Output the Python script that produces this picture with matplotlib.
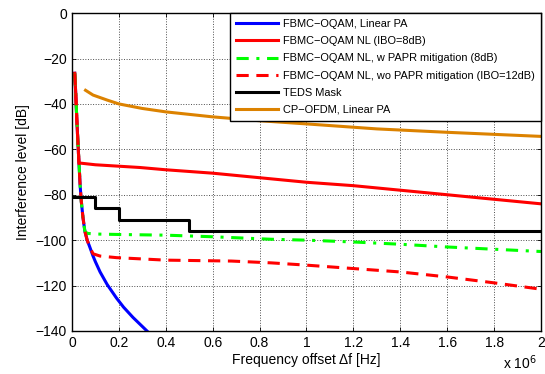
import matplotlib
matplotlib.use("Agg")
import matplotlib.pyplot as plt

plt.rcParams['font.family'] = ['Liberation Sans', 'DejaVu Sans']

# frequency offsets in units of 1e6 Hz, levels in dB
blue_f = [0.012, 0.016, 0.02, 0.025, 0.03, 0.035, 0.04, 0.047, 0.055, 0.065, 0.076,
          0.09, 0.1, 0.12, 0.15, 0.19, 0.22, 0.26, 0.3, 0.33]
blue_db = [-26.5, -35, -45, -56, -66, -76, -83, -90, -96, -100, -103,
           -107, -109.5, -114, -119.5, -125.5, -129.5, -134, -138, -141]

nl8_f = [0.012, 0.016, 0.02, 0.025, 0.03, 0.1, 0.29, 0.4, 0.6, 0.85, 1.0,
         1.2, 1.4, 1.6, 1.8, 2.0]
nl8_db = [-26.5, -35, -45, -56, -66, -66.8, -68, -69, -70.5, -73, -74.5,
          -76, -78, -80, -82, -84]

papr_f = [0.012, 0.016, 0.02, 0.025, 0.03, 0.035, 0.04, 0.047, 0.055, 0.065, 0.1,
          0.2, 0.4, 0.6, 0.85, 1.0, 1.2, 1.4, 1.6, 1.8, 2.0]
papr_db = [-26.5, -35, -45, -56, -66, -76, -83, -90, -96, -97, -97.3,
           -97.5, -97.8, -98.5, -99.6, -100, -100.8, -101.8, -103, -104, -105]

nl12_f = [0.012, 0.016, 0.02, 0.025, 0.03, 0.035, 0.04, 0.047, 0.055, 0.065, 0.076,
          0.09, 0.12, 0.19, 0.4, 0.68, 0.85, 1.0, 1.2, 1.4, 1.6, 1.8, 2.0]
nl12_db = [-26.5, -35, -45, -56, -66, -76, -83, -90, -96, -100, -103,
           -106, -107, -107.7, -108.8, -109.2, -110, -111, -112.5, -114, -116.2, -118.8, -121.6]

mask_f = [0, 0.1, 0.2, 0.5, 2.0]
mask_db = [-81, -86, -91, -96, -96]

ofdm_f = [0.058, 0.09, 0.15, 0.2, 0.3, 0.4, 0.6, 0.8, 1.0, 1.3, 1.6, 2.0]
ofdm_db = [-34, -36.1, -38.3, -40, -42, -43.5, -45.7, -47.4, -48.8, -51, -52.5, -54.3]

labels = ["FBMC\u2212OQAM, Linear PA",
          "FBMC\u2212OQAM NL (IBO=8dB)",
          "FBMC\u2212OQAM NL, w PAPR mitigation (8dB)",
          "FBMC\u2212OQAM NL, wo PAPR mitigation (IBO=12dB)",
          "TEDS Mask",
          "CP\u2212OFDM, Linear PA"]

fig = plt.figure(figsize=(5.45, 3.74), dpi=100)
ax = fig.add_axes([0.132, 0.115, 0.8606, 0.85])

lw = 2.2
ax.plot(blue_f, blue_db, color='blue', lw=lw, label=labels[0])
ax.plot(nl8_f, nl8_db, color='red', lw=lw, label=labels[1])
ax.plot(papr_f, papr_db, color='#00ff00', lw=lw, ls=(0, (4, 2.5, 1, 2.5)), label=labels[2])
ax.plot(nl12_f, nl12_db, color='red', lw=lw, ls=(0, (4, 2.5)), label=labels[3])
ax.plot(mask_f, mask_db, color='black', lw=lw, drawstyle='steps-post', label=labels[4])
ax.plot(ofdm_f, ofdm_db, color='#dc8200', lw=lw, label=labels[5])

ax.set_xlim(0, 2)
ax.set_ylim(-140, 0)
ax.set_xticks([0, 0.2, 0.4, 0.6, 0.8, 1, 1.2, 1.4, 1.6, 1.8, 2])
ax.set_xticklabels(['0', '0.2', '0.4', '0.6', '0.8', '1', '1.2', '1.4', '1.6', '1.8', '2'])
ax.set_yticks(range(-140, 1, 20))
ax.tick_params(direction='in', top=True, right=True, length=3, labelsize=10, width=0.6)
ax.grid(True, ls=':', color='0.3', lw=0.7)
for s in ax.spines.values():
    s.set_linewidth(1.0)

ax.set_xlabel("Frequency offset \u0394f [Hz]", fontsize=10, labelpad=2)
ax.set_ylabel("Interference level [dB]", fontsize=10, labelpad=4)
fig.text(0.985, 0.006, r'x 10$^6$', ha='right', va='bottom', fontsize=10)

leg = ax.legend(loc='upper right', bbox_to_anchor=(1.0, 1.0), borderaxespad=0,
                fontsize=7.9, fancybox=False, framealpha=1, edgecolor='black',
                handlelength=3.8, handletextpad=0.45, labelspacing=0.65, borderpad=0.55)
leg.get_frame().set_linewidth(1.0)

fig.savefig("out.png", dpi=100)
